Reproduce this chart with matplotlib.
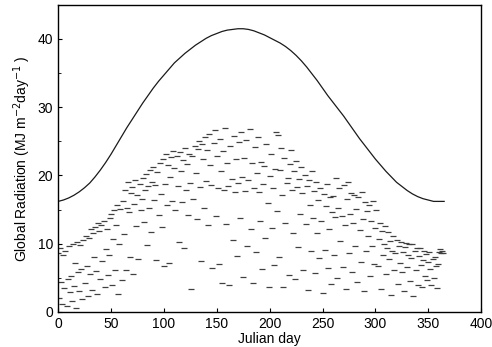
import matplotlib.pyplot as plt
import numpy as np

plt.rcParams['font.family'] = ['Liberation Sans', 'DejaVu Sans']

# smooth upper curve (every 5 days)
curve_day = list(range(0, 366, 5))
curve_val = [16.2, 16.4, 16.7, 17.1, 17.6, 18.2, 18.9, 19.8, 20.8, 21.9,
             23.1, 24.4, 25.7, 27.0, 28.2, 29.4, 30.6, 31.7, 32.8, 33.8,
             34.7, 35.6, 36.5, 37.2, 37.9, 38.5, 39.1, 39.6, 40.1, 40.5,
             40.8, 41.1, 41.3, 41.4, 41.5, 41.5, 41.4, 41.2, 40.9, 40.6,
             40.2, 39.8, 39.4, 38.9, 38.3, 37.6, 36.8, 35.9, 34.9, 33.9,
             32.8, 31.7, 30.7, 29.7, 28.7, 27.6, 26.5, 25.4, 24.4, 23.4,
             22.4, 21.5, 20.6, 19.8, 19.0, 18.4, 17.8, 17.3, 16.9, 16.6,
             16.4, 16.2, 16.2, 16.2]

# daily global radiation, day 0..364
radiation = [
    8.7, 2.1, 9.3, 4.4, 1.2, 8.4, 3.5, 9.0, 0.8, 4.8,
    9.6, 2.9, 5.3, 1.6, 9.9, 3.8, 7.2, 0.6, 10.3, 5.8,
    3.1, 9.8, 6.3, 1.9, 10.6, 4.2, 11.2, 6.7, 2.4, 10.9,
    5.6, 12.1, 3.2, 11.6, 8.1, 12.4, 6.0, 2.7, 13.0, 11.8,
    4.9, 12.7, 7.5, 13.4, 3.7, 9.2, 12.2, 5.4, 8.4, 13.8,
    14.3, 3.9, 10.7, 14.9, 6.1, 12.8, 15.6, 2.6, 9.9, 15.1,
    4.7, 16.2, 11.4, 17.8, 6.2, 15.3, 19.1, 14.6, 8.0, 17.4,
    18.3, 5.5, 15.8, 19.4, 12.6, 17.1, 7.8, 18.8, 14.9, 16.6,
    19.6, 13.2, 17.8, 20.2, 9.8, 18.4, 15.3, 20.8, 11.7, 19.0,
    21.3, 16.4, 18.6, 7.6, 20.5, 14.2, 21.9, 17.3, 12.4, 22.4,
    6.8, 18.7, 23.1, 15.7, 21.6, 7.2, 19.8, 22.7, 16.3, 23.6,
    21.1, 14.9, 22.9, 18.5, 10.3, 23.4, 20.6, 16.1, 22.2, 9.4,
    24.0, 17.8, 21.7, 14.2, 23.2, 18.9, 3.4, 22.8, 16.6, 24.3,
    20.4, 13.6, 23.9, 25.0, 18.3, 7.5, 24.6, 22.4, 15.2, 25.6,
    19.2, 23.8, 12.8, 26.1, 21.5, 18.6, 6.5, 24.7, 26.6, 14.1,
    22.9, 18.1, 7.0, 25.4, 20.7, 4.2, 23.6, 17.9, 26.9, 12.9,
    21.8, 18.4, 3.9, 24.3, 19.5, 10.5, 25.8, 17.6, 22.4, 8.2,
    18.9, 24.9, 13.7, 26.3, 19.8, 5.1, 22.6, 17.7, 25.2, 9.6,
    19.4, 26.8, 12.1, 21.9, 4.3, 18.2, 24.1, 8.8, 20.3, 25.7,
    17.6, 13.4, 22.0, 6.3, 18.7, 21.4, 10.9, 24.6, 16.0, 3.6,
    19.9, 23.2, 12.3, 18.1, 6.9, 21.0, 26.4, 14.8, 25.9, 8.0,
    20.8, 24.0, 17.2, 3.7, 22.5, 13.1, 18.9, 19.6, 5.4, 21.7,
    23.7, 17.8, 11.5, 20.6, 4.8, 22.1, 18.3, 9.5, 19.5, 14.4,
    21.2, 17.4, 6.1, 20.0, 12.9, 18.5, 3.2, 19.3, 15.6, 8.9,
    20.6, 13.8, 17.7, 5.7, 19.0, 11.6, 16.4, 7.9, 18.2, 13.3,
    2.8, 17.3, 9.1, 15.5, 18.7, 6.4, 12.2, 16.9, 4.1, 14.6,
    17.0, 8.3, 13.9, 19.7, 5.0, 15.3, 18.2, 10.4, 14.0, 6.6,
    18.6, 12.7, 3.4, 16.5, 19.1, 8.7, 14.3, 17.4, 5.9, 13.0,
    17.2, 9.7, 15.1, 4.4, 16.8, 12.0, 7.3, 17.6, 13.6, 3.0,
    16.1, 8.9, 14.8, 11.2, 15.7, 5.2, 13.4, 9.6, 16.3, 7.0,
    12.3, 14.9, 6.8, 10.7, 13.1, 3.3, 11.9, 8.4, 10.0, 12.6,
    5.6, 9.3, 11.7, 7.7, 10.4, 2.5, 9.0, 11.1, 6.2, 8.6,
    10.6, 4.1, 9.7, 7.2, 10.2, 5.8, 8.8, 3.1, 9.5, 10.1,
    6.6, 8.3, 9.9, 4.6, 7.9, 10.0, 2.3, 8.9, 6.1, 9.4,
    4.0, 8.2, 9.3, 6.9, 3.6, 7.6, 9.0, 5.3, 8.5, 4.7,
    7.3, 8.8, 6.3, 3.9, 7.8, 5.0, 8.1, 6.7, 3.5, 7.1,
    8.8, 9.2, 8.6, 9.0, 8.7,
]
days = np.arange(len(radiation))

fig = plt.figure(figsize=(4.92, 3.47), dpi=100)
ax = fig.add_axes([0.118, 0.101, 0.860, 0.885])

ax.plot(days, radiation, linestyle='none', marker='_', markersize=5,
        markeredgewidth=0.9, color='0.25')
ax.plot(curve_day, curve_val, color='0.1', linewidth=0.9)

ax.set_xlim(0, 400)
ax.set_ylim(0, 45)
ax.set_xticks(np.arange(0, 401, 50))
ax.set_yticks(np.arange(0, 41, 10))
ax.set_yticks(np.arange(5, 45, 10), minor=True)
ax.tick_params(direction='in', labelsize=10, length=3)
ax.tick_params(which='minor', direction='in', length=2)
for s in ax.spines.values():
    s.set_linewidth(1.0)

ax.set_xlabel('Julian day', fontsize=10, labelpad=1)
ax.set_ylabel('Global Radiation (MJ m$^{-2}$day$^{-1}$ )', fontsize=10, labelpad=3)

fig.savefig('out.png', dpi=100)
